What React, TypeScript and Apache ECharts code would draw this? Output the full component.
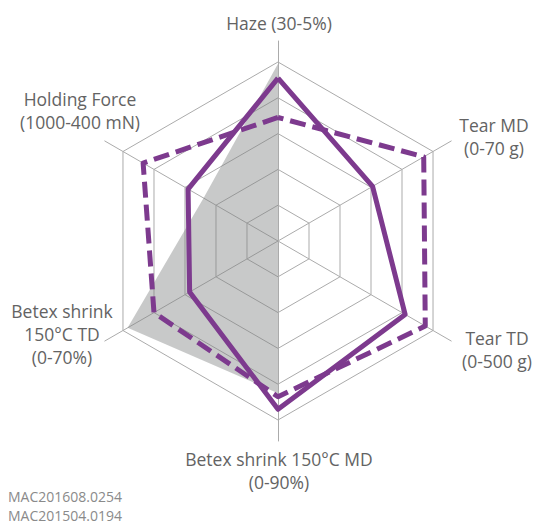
import React, { useEffect, useRef } from "react";
import * as echarts from "echarts";

const indicatorNames = [
  "Haze (30-5%)",
  "Holding Force\n(1000-400 mN)",
  "Betex shrink\n150°C TD\n(0-70%)",
  "Betex shrink 150°C MD\n(0-90%)",
  "Tear TD\n(0-500 g)",
  "Tear MD\n(0-70 g)",
];
const indicatorMax = 100;

// values in indicator order (counter-clockwise from top)
const referenceArea = [99, 48, 97, 85, 0, 0];
const seriesDashed = [69, 87, 80, 87, 95, 94];
const seriesSolid = [91, 58, 57, 94, 82, 61];

const legendNames = ["MAC201608.0254", "MAC201504.0194"];

const PURPLE = "#7d3a8e";
const GRID = "#ababab";
const TEXT = "#636363";

export default function App() {
  const ref = useRef<HTMLDivElement>(null);
  useEffect(() => {
    if (!ref.current) return;
    const chart = echarts.init(ref.current, undefined, { renderer: "svg" });
    const indicators = indicatorNames.map((n) => ({ name: n, max: indicatorMax, min: 0 }));
    const font = "'Open Sans', sans-serif";
    const labelStyle = (text: string, x: number, y: number) => ({
      type: "text",
      x,
      y,
      silent: true,
      style: {
        text,
        x: 0,
        y: 0,
        textAlign: "center",
        textVerticalAlign: "middle",
        fontFamily: font,
        fontSize: 17.5,
        lineHeight: 23,
        fill: TEXT,
      },
    });
    chart.setOption({
      animation: false,
      backgroundColor: "#ffffff",
      legend: {
        data: legendNames,
        orient: "vertical",
        left: 3,
        top: 489,
        height: 34,
        padding: 0,
        itemWidth: 0,
        itemHeight: 0,
        itemGap: 4,
        selectedMode: false,
        textStyle: { fontFamily: font, fontSize: 14, color: "#8a8a8a", lineHeight: 15 },
      },
      radar: [
        {
          center: [278, 241],
          radius: 179,
          splitNumber: 5,
          shape: "polygon",
          indicator: indicators,
          axisName: { show: false },
          axisLine: { show: false },
          splitLine: { show: true, lineStyle: { color: GRID, width: 1 } },
          splitArea: { show: false },
        },
        {
          center: [278, 241],
          radius: 200,
          splitNumber: 1,
          shape: "polygon",
          indicator: indicators,
          axisName: { show: false },
          axisLine: { show: true, lineStyle: { color: GRID, width: 1 } },
          splitLine: { show: false },
          splitArea: { show: false },
        },
      ],
      series: [
        {
          type: "radar",
          radarIndex: 0,
          name: "Reference",
          symbol: "none",
          silent: true,
          lineStyle: { width: 0, opacity: 0 },
          areaStyle: { color: "rgba(128,130,130,0.43)", opacity: 1 },
          data: [{ value: referenceArea, name: "Reference" }],
        },
        {
          type: "radar",
          radarIndex: 0,
          name: legendNames[0],
          symbol: "none",
          lineStyle: { color: PURPLE, width: 5, type: [16, 7] },
          itemStyle: { color: PURPLE },
          data: [{ value: seriesDashed, name: legendNames[0] }],
        },
        {
          type: "radar",
          radarIndex: 0,
          name: legendNames[1],
          symbol: "none",
          lineStyle: { color: PURPLE, width: 5, type: "solid" },
          itemStyle: { color: PURPLE },
          data: [{ value: seriesSolid, name: legendNames[1] }],
        },
      ],
      graphic: [
        labelStyle(indicatorNames[0], 279, 23),
        labelStyle(indicatorNames[5], 494, 136),
        labelStyle(indicatorNames[4], 497, 349),
        labelStyle(indicatorNames[3], 279, 470),
        labelStyle(indicatorNames[2], 62, 334),
        labelStyle(indicatorNames[1], 80, 110),
      ],
    });
    return () => chart.dispose();
  }, []);
  return (
    <div
      ref={ref}
      style={{ position: "fixed", left: 0, top: 0, width: 534, height: 524 }}
    />
  );
}
